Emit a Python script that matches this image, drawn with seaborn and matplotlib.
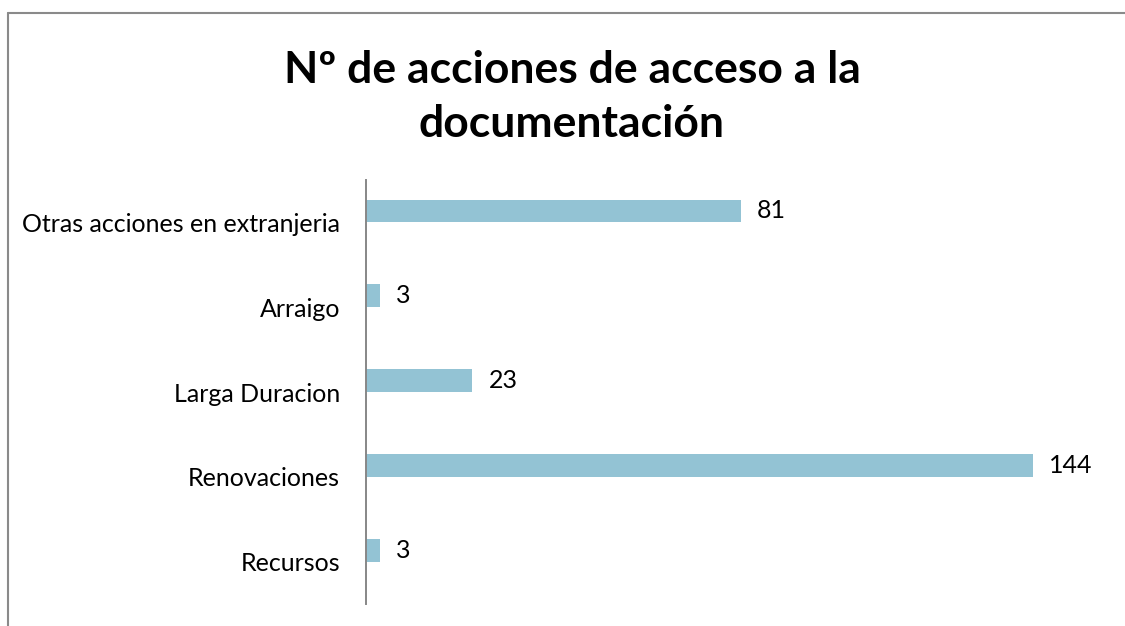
import matplotlib
matplotlib.use('Agg')
import matplotlib.pyplot as plt
from matplotlib.lines import Line2D
import seaborn as sns
import pandas as pd

# datos
categorias = ['Otras acciones en extranjeria', 'Arraigo', 'Larga Duracion',
              'Renovaciones', 'Recursos']
acciones = [81, 3, 23, 144, 3]
series = ['Serie 1', 'Serie 2']   # la segunda serie esta vacia (como en Excel)
titulo = 'Nº de acciones de acceso a la\ndocumentación'

df = pd.DataFrame({'categoria': categorias, 'acciones': acciones, 'serie': series[0]})

sns.set_style('white')
plt.rcParams['font.family'] = ['Lato', 'DejaVu Sans']

W, H = 1125, 626
fig = plt.figure(figsize=(W / 100, H / 100), dpi=100)
ax = fig.add_axes([366 / W, 1 - 604 / H, 0.6585, (604 - 180) / H])

color = '#93c3d4'
sns.barplot(data=df, x='acciones', y='categoria', hue='serie', hue_order=series,
            order=categorias, orient='h', width=0.54, dodge=True, saturation=1,
            palette=[color, color], legend=False, linewidth=0, ax=ax)

ax.bar_label(ax.containers[0], padding=11.5, fontsize=18, color='black')

ax.set_xlim(0, 160)
ax.set_xlabel('')
ax.set_ylabel('')
ax.xaxis.set_visible(False)
for s in ['top', 'right', 'bottom']:
    ax.spines[s].set_visible(False)
ax.spines['left'].set_color('#878787')
ax.spines['left'].set_linewidth(1.4)
ax.tick_params(axis='y', length=0, pad=18.7, labelsize=18, labelcolor='black')

# titulo
fig.text(572 / W, 1 - 97 / H, titulo, ha='center', va='center', color='black',
         fontsize=32, fontweight='bold', linespacing=1.42)

# borde del area del grafico
gris = '#8a8a8a'
fig.add_artist(Line2D([8 / W, 8 / W], [0, 1 - 13 / H], color=gris, lw=1.5,
                      transform=fig.transFigure))
fig.add_artist(Line2D([8 / W, 1], [1 - 13 / H, 1 - 13 / H], color=gris, lw=1.5,
                      transform=fig.transFigure))

fig.savefig('out.png', dpi=100)
